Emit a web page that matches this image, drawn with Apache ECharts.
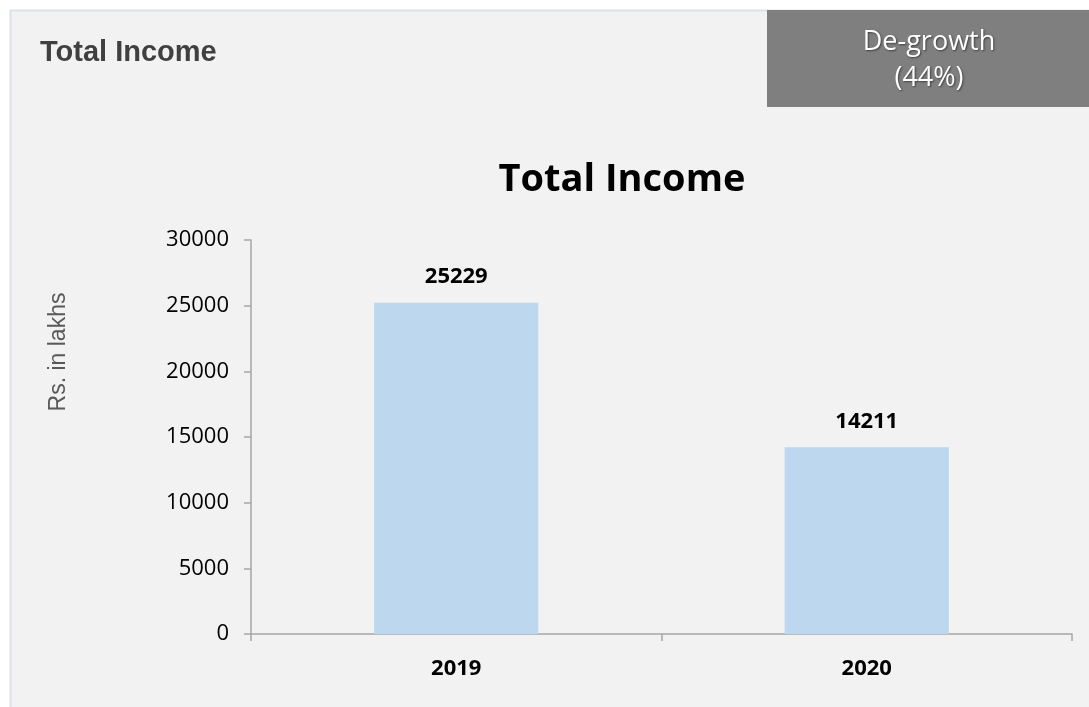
<!DOCTYPE html>
<html>
<head>
<meta charset="utf-8">
<script src="https://cdn.jsdelivr.net/npm/echarts@6/dist/echarts.min.js"></script>
<style>
html,body{margin:0;padding:0;background:#ffffff;}
#c{width:1089px;height:707px;}
</style>
</head>
<body>
<div id="c"></div>
<script>
var categories = ['2019', '2020'];
var incomeValues = [25229, 14211];
var yTicks = [0, 5000, 10000, 15000, 20000, 25000, 30000];
var headerTitle = 'Total Income';
var chartTitle = 'Total Income';
var badgeLines = ['De-growth', '(44%)'];
var yAxisName = 'Rs. in lakhs';

var chart = echarts.init(document.getElementById('c'));
chart.setOption({
  backgroundColor: '#ffffff',
  animation: false,
  graphic: [
    { type: 'rect', z: -10, shape: { x: 10.5, y: 10.5, width: 1100, height: 720 },
      style: { fill: '#f2f2f2', stroke: '#dde2ea', lineWidth: 2 } },
    { type: 'rect', z: -5, shape: { x: 767, y: 10, width: 322, height: 97 },
      style: { fill: '#7f7f7f' } },
    { type: 'text', x: 40, y: 53, style: { text: headerTitle, fill: '#404040',
      font: 'bold 29px "Liberation Sans", Arial, sans-serif', textVerticalAlign: 'middle' } },
    { type: 'text', x: 929, y: 42, style: { text: badgeLines[0], fill: '#ffffff',
      font: '27px "Open Sans", sans-serif', textAlign: 'center', textVerticalAlign: 'middle',
      textShadowColor: 'rgba(0,0,0,0.5)', textShadowBlur: 2, textShadowOffsetX: 1, textShadowOffsetY: 1 } },
    { type: 'text', x: 929, y: 78, style: { text: badgeLines[1], fill: '#ffffff',
      font: '27px "Open Sans", sans-serif', textAlign: 'center', textVerticalAlign: 'middle',
      textShadowColor: 'rgba(0,0,0,0.5)', textShadowBlur: 2, textShadowOffsetX: 1, textShadowOffsetY: 1 } },
    { type: 'text', x: 622, y: 180, style: { text: chartTitle, fill: '#000000',
      font: 'bold 38px "Open Sans", sans-serif', textAlign: 'center', textVerticalAlign: 'middle' } },
    { type: 'text', x: 59, y: 352, rotation: Math.PI / 2, style: { text: yAxisName, fill: '#595959',
      font: '23px "Liberation Sans", Arial, sans-serif', textAlign: 'center', textVerticalAlign: 'middle' } }
  ],
  grid: { left: 251, right: 17, top: 240, bottom: 73 },
  xAxis: {
    type: 'category',
    data: categories,
    axisLine: { lineStyle: { color: '#a6a6a6', width: 1.5 } },
    axisTick: { show: true, length: 7, lineStyle: { color: '#a6a6a6', width: 1.5 } },
    axisLabel: { color: '#000000', fontWeight: 'bold', fontSize: 22, margin: 24,
      fontFamily: '"Open Sans", sans-serif' }
  },
  yAxis: {
    type: 'value',
    min: yTicks[0],
    max: yTicks[yTicks.length - 1],
    interval: yTicks[1] - yTicks[0],
    axisLine: { show: true, lineStyle: { color: '#a6a6a6', width: 1.5 } },
    axisTick: { show: true, length: 7, lineStyle: { color: '#a6a6a6', width: 1.5 } },
    splitLine: { show: false },
    axisLabel: { color: '#000000', fontSize: 22, margin: 22, fontFamily: '"Open Sans", sans-serif',
      formatter: function (v) { return String(v); } }
  },
  series: [{
    type: 'bar',
    data: incomeValues,
    barWidth: '40%',
    itemStyle: { color: '#bdd7ee' },
    label: { show: true, position: 'top', distance: 15, color: '#000000', fontWeight: 'bold',
      fontSize: 22, fontFamily: '"Open Sans", sans-serif' }
  }]
});
</script>
</body>
</html>
